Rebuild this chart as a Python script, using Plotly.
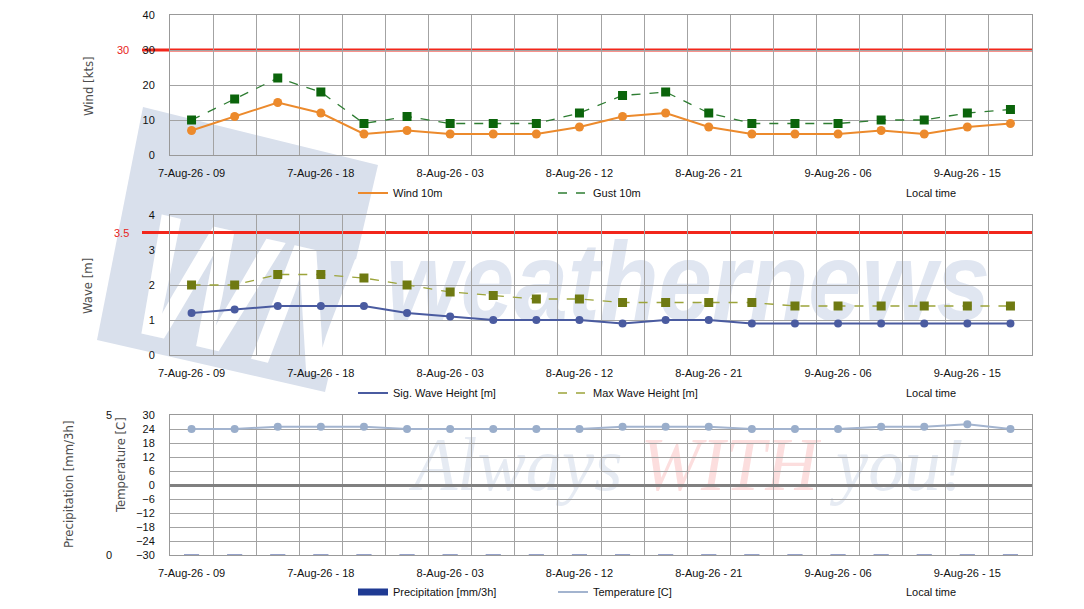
import base64
import plotly.graph_objects as go

# Forecast time steps (3-hourly, local time).
times = [
    "7-Aug-26 - 09", "7-Aug-26 - 12", "7-Aug-26 - 15", "7-Aug-26 - 18",
    "7-Aug-26 - 21", "8-Aug-26 - 00", "8-Aug-26 - 03", "8-Aug-26 - 06",
    "8-Aug-26 - 09", "8-Aug-26 - 12", "8-Aug-26 - 15", "8-Aug-26 - 18",
    "8-Aug-26 - 21", "9-Aug-26 - 00", "9-Aug-26 - 03", "9-Aug-26 - 06",
    "9-Aug-26 - 09", "9-Aug-26 - 12", "9-Aug-26 - 15", "9-Aug-26 - 18",
]

# Series.
wind_10m = [7, 11, 15, 12, 6, 7, 6, 6, 6, 8, 11, 12, 8, 6, 6, 6, 7, 6, 8, 9]
gust_10m = [10, 16, 22, 18, 9, 11, 9, 9, 9, 12, 17, 18, 12, 9, 9, 9, 10, 10, 12, 13]
sig_wave = [1.2, 1.3, 1.4, 1.4, 1.4, 1.2, 1.1, 1.0, 1.0, 1.0,
            0.9, 1.0, 1.0, 0.9, 0.9, 0.9, 0.9, 0.9, 0.9, 0.9]
max_wave = [2.0, 2.0, 2.3, 2.3, 2.2, 2.0, 1.8, 1.7, 1.6, 1.6,
            1.5, 1.5, 1.5, 1.5, 1.4, 1.4, 1.4, 1.4, 1.4, 1.4]
precip = [0] * 20
temperature = [24, 24, 25, 25, 25, 24, 24, 24, 24, 24,
               25, 25, 25, 24, 24, 24, 25, 25, 26, 24]

# Limits.
wind_limit = 30
wave_limit = 3.5

# Only every third time step gets a label.
tick_text = [t if i % 3 == 0 else "" for i, t in enumerate(times)]

FONT = "Liberation Sans, Arial, sans-serif"
NARROW = "Liberation Sans Narrow, DejaVu Sans Condensed, Liberation Sans, Arial, sans-serif"
GRID = "#a3a3a3"

# Geometry in window pixels; the page body adds an 8px offset.
OFF = 8
W, H = 1084 - OFF, 609 - OFF
X0, X1, Y0, Y1 = 40, 1032, 15, 555  # paper area in window pixels
PW, PH = X1 - X0, Y1 - Y0


def px(x):
    return (x - X0) / PW


def py(y):
    return (Y1 - y) / PH


fig = go.Figure()

# Wind panel.
fig.add_trace(go.Scatter(x=times, y=gust_10m, mode="lines+markers", showlegend=False,
                         line=dict(color="#2e7d32", width=1.3, dash="dash"),
                         marker=dict(symbol="square", size=9, color="#0b640b"),
                         xaxis="x", yaxis="y"))
fig.add_trace(go.Scatter(x=times, y=wind_10m, mode="lines+markers", showlegend=False,
                         line=dict(color="#ec8a2c", width=2),
                         marker=dict(symbol="circle", size=9, color="#ec8a2c"),
                         xaxis="x", yaxis="y"))

# Wave panel.
fig.add_trace(go.Scatter(x=times, y=max_wave, mode="lines+markers", showlegend=False,
                         line=dict(color="#9ca43a", width=1.3, dash="dash"),
                         marker=dict(symbol="square", size=9, color="#6f7a12"),
                         xaxis="x2", yaxis="y2"))
fig.add_trace(go.Scatter(x=times, y=sig_wave, mode="lines+markers", showlegend=False,
                         line=dict(color="#4a5ba0", width=2),
                         marker=dict(symbol="circle", size=8, color="#4a5ba0"),
                         xaxis="x2", yaxis="y2"))

# Precipitation / temperature panel.
fig.add_trace(go.Scatter(x=times, y=temperature, mode="lines+markers", showlegend=False,
                         line=dict(color="#a3b4cf", width=2),
                         marker=dict(symbol="circle", size=8, color="#9aaecb"),
                         xaxis="x3", yaxis="y3"))
fig.add_trace(go.Bar(x=times, y=precip, showlegend=False, width=0.35,
                     marker=dict(color="#7383b8", line=dict(color="#7383b8", width=1)),
                     xaxis="x3", yaxis="y4"))

# Legend-only entries (line samples without markers).
legend_items = [
    ("Wind 10m", dict(color="#ec8a2c", width=2), "legend"),
    ("Gust 10m", dict(color="#2e7d32", width=1.3, dash="dash"), "legend"),
    ("Sig. Wave Height [m]", dict(color="#4a5ba0", width=2), "legend2"),
    ("Max Wave Height [m]", dict(color="#9ca43a", width=1.3, dash="dash"), "legend2"),
    ("Precipitation [mm/3h]", dict(color="#1f3a93", width=7), "legend3"),
    ("Temperature [C]", dict(color="#a3b4cf", width=2), "legend3"),
]
for name, line, leg in legend_items:
    fig.add_trace(go.Scatter(x=[None], y=[None], mode="lines", name=name, line=line,
                             legend=leg, xaxis="x", yaxis="y"))

xaxis_common = dict(
    type="category", categoryorder="array", categoryarray=times,
    range=[-0.5, len(times) - 0.5], automargin=False,
    tickmode="array", tickvals=times, ticktext=tick_text, tickson="boundaries",
    tickangle=0, ticks="", showgrid=True, gridcolor=GRID, gridwidth=1,
    showline=True, linecolor="#999999", mirror=True,
    tickfont=dict(family=FONT, size=11, color="#111111"), ticklabelstandoff=8,
    domain=[px(170), 1],
)
yaxis_common = dict(
    showgrid=True, gridcolor=GRID, gridwidth=1, zeroline=False, automargin=False,
    showline=True, linecolor="#999999", mirror=True, ticks="",
    tickfont=dict(family=FONT, size=11, color="#111111"), ticklabelstandoff=12,
)

fig.update_layout(
    width=W, height=H,
    margin=dict(l=X0 - OFF, r=W - (X1 - OFF), t=Y0 - OFF, b=H - (Y1 - OFF), autoexpand=False),
    paper_bgcolor="white", plot_bgcolor="rgba(0,0,0,0)",
    font=dict(family=FONT, size=11, color="#111111"),
    xaxis=dict(xaxis_common, anchor="y"),
    xaxis2=dict(xaxis_common, anchor="y2", matches="x"),
    xaxis3=dict(xaxis_common, anchor="y3", matches="x"),
    yaxis=dict(yaxis_common, domain=[py(155), py(15)], range=[0, 40], dtick=10),
    yaxis2=dict(yaxis_common, domain=[py(355), py(215)], range=[0, 4], dtick=1),
    yaxis3=dict(yaxis_common, domain=[py(555), py(415)], range=[-30, 30], dtick=6,
                zeroline=True, zerolinecolor="#808080", zerolinewidth=3),
    yaxis4=dict(overlaying="y3", anchor="free", position=px(112), side="left",
                range=[0, 5], tickvals=[0, 5], showgrid=False, zeroline=False,
                showline=False, ticks="", automargin=False,
                tickfont=dict(family=FONT, size=11, color="#111111")),
)

legend_common = dict(orientation="h", xanchor="left", yanchor="middle",
                     entrywidth=155, font=dict(family=FONT, size=11, color="#111111"),
                     bgcolor="rgba(0,0,0,0)", tracegroupgap=0)
fig.update_layout(
    legend=dict(legend_common, x=px(353), y=py(193)),
    legend2=dict(legend_common, x=px(353), y=py(393)),
    legend3=dict(legend_common, x=px(353), y=py(592)),
)

# Limit lines with red labels.
for yref, val, label in [("y", wind_limit, "30"), ("y2", wave_limit, "3.5")]:
    fig.add_shape(type="line", xref="paper", yref=yref, x0=px(142), x1=1, y0=val, y1=val,
                  line=dict(color="#f2261b", width=3), layer="between")
    fig.add_annotation(xref="paper", yref=yref, x=px(131), y=val, text=label,
                       showarrow=False, xanchor="right", yanchor="middle",
                       font=dict(family=FONT, size=11, color="#e8231a"))

# Axis titles.
for text, x, y, size in [
    ("Wind [kts]", 88, 86, 13),
    ("Wave [m]", 88, 286, 13),
    ("Precipitation [mm/3h]", 68, 485, 13),
    ("Temperature [C]", 120, 465, 13),
]:
    fig.add_annotation(xref="paper", yref="paper", x=px(x), y=py(y), text=text,
                       textangle=-90, showarrow=False, xanchor="center", yanchor="middle",
                       font=dict(family=NARROW, size=size, color="#4d4d4d"))

# "Local time" captions.
for y in [193, 393, 592]:
    fig.add_annotation(xref="paper", yref="paper", x=px(931), y=py(y), text="Local time",
                       showarrow=False, xanchor="center", yanchor="middle",
                       font=dict(family=FONT, size=11, color="#111111"))

# Watermark drawn below the grid (SVG in window pixel coordinates).
svg = f"""<svg xmlns="http://www.w3.org/2000/svg" width="{W}" height="{H}" viewBox="{OFF} {OFF} {W} {H}">
<polygon points="143,107 378,165 325,392 97,340" fill="#d9e0ec"/>
<text transform="translate(118,328) rotate(13) skewX(-8)" font-family="Liberation Sans" font-weight="bold"
 font-size="175" fill="#ffffff" textLength="225" lengthAdjust="spacingAndGlyphs">WN</text>
<text x="386" y="320" font-family="Liberation Sans" font-weight="bold" font-style="italic" font-size="112"
 fill="#e0e6f1" textLength="604" lengthAdjust="spacingAndGlyphs">weathernews</text>
<text x="413" y="490" font-family="Liberation Serif" font-style="italic" font-size="76"
 textLength="552" lengthAdjust="spacingAndGlyphs"><tspan fill="#e6ebf3">Always </tspan><tspan fill="#fcdede">WITH</tspan><tspan fill="#e6ebf3"> you!</tspan></text>
</svg>"""
fig.add_layout_image(
    source="data:image/svg+xml;base64," + base64.b64encode(svg.encode()).decode(),
    xref="paper", yref="paper", x=px(OFF), y=py(OFF), sizex=W / PW, sizey=H / PH,
    xanchor="left", yanchor="top", sizing="stretch", layer="below",
)

fig.write_html("out.html")
